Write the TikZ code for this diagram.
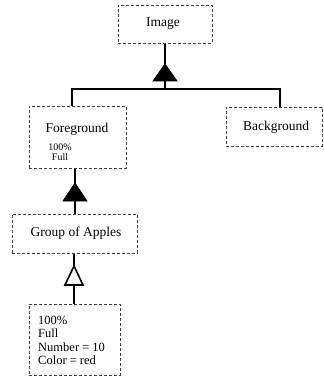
\documentclass[tikz,border=0pt]{standalone}
\usepackage{fontspec}
\setmainfont{Liberation Serif}
\begin{document}
\begin{tikzpicture}[x=1pt,y=-1pt,
  box/.style={draw=black!75,densely dashed,line width=0.9pt,inner sep=0pt,anchor=north west},
  conn/.style={line width=1.6pt,black},
  lbl/.style={font=\fontsize{13.5}{15}\selectfont,inner sep=0pt},
  small/.style={font=\fontsize{10}{11}\selectfont,inner sep=0pt,align=center},
  tri/.style={fill=black,draw=black,line width=0.8pt,line join=miter},
  otri/.style={fill=white,draw=black,line width=1.6pt,line join=miter}]
\useasboundingbox (0,0) rectangle (323,379);
% boxes
\node[box,minimum width=94pt,minimum height=38pt] (img) at (118,5) {};
\node[lbl] (imgt) at (163,24) {Image};
\node[box,minimum width=97pt,minimum height=62pt] (fg) at (29,106) {};
\node[lbl] (fgt) at (77,129) {Foreground};
\node[small] (fgs) at (60,152) {100\%\\[-1pt]Full};
\node[box,minimum width=96pt,minimum height=39pt] (bg) at (226,107) {};
\node[lbl] (bgt) at (276,127) {Background};
\node[box,minimum width=125pt,minimum height=39pt] (grp) at (12,214) {};
\node[lbl] (grpt) at (76,233) {Group of Apples};
\node[box,minimum width=91pt,minimum height=71pt] (bot) at (29,304) {};
\node[font=\fontsize{12.5}{13.3}\selectfont,inner sep=0pt,align=left,anchor=north west] (bott) at (38,316) {100\%\\Full\\Number = 10\\Color = red};
% inheritance 1
\coordinate (t1a) at (165,64);
\coordinate (t1b) at (165,81);
\coordinate (j) at (165,89);
\coordinate (jl) at (72,89);
\coordinate (jr) at (280,89);
\draw[conn] (img.south -| t1a) -- (t1a);
\draw[conn] (t1b) -- (j);
\draw[conn] (fg.north -| jl) |- (jr) -- (bg.north -| jr);
\draw[tri] (t1a) -- ++(-12,17) -- ++(24,0) -- cycle;
% inheritance 2
\coordinate (t2a) at (75,183);
\coordinate (t2b) at (75,201);
\draw[conn] (fg.south -| t2a) -- (t2a);
\draw[conn] (t2b) -- (grp.north -| t2b);
\draw[tri] (t2a) -- ++(-12,18) -- ++(24,0) -- cycle;
% inheritance 3
\coordinate (t3a) at (74,266);
\coordinate (t3b) at (74,285);
\draw[conn] (grp.south -| t3a) -- (t3a);
\draw[conn] (t3b) -- (bot.north -| t3b);
\draw[otri] (t3a) -- ++(-9,19) -- ++(18,0) -- cycle;
\end{tikzpicture}
\end{document}
